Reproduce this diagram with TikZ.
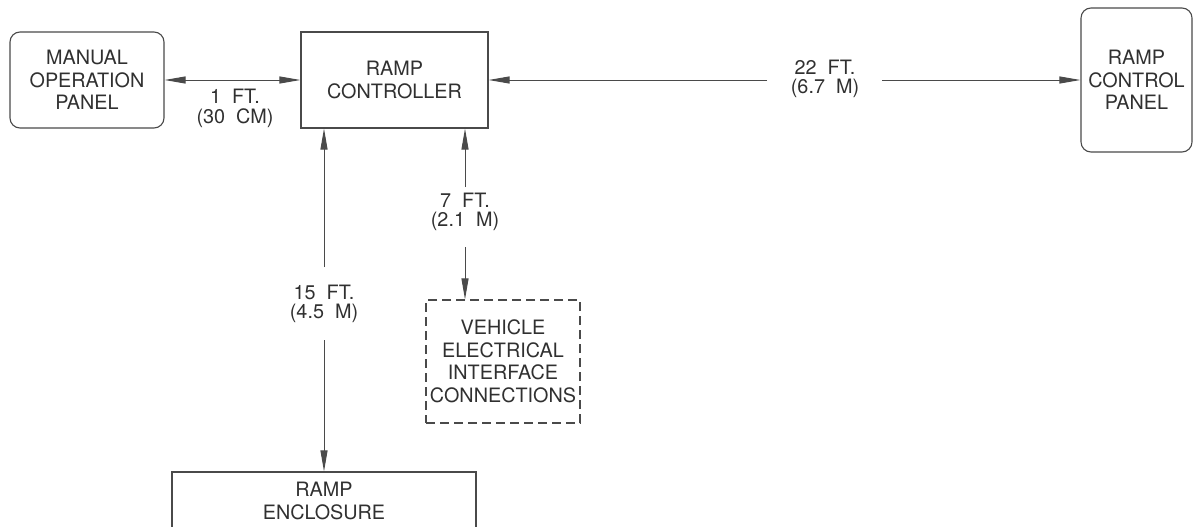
\documentclass[tikz,border=0pt]{standalone}
\usepackage{fontspec}
\setmainfont{TeX Gyre Heros}[WordSpace=2.0]
\usetikzlibrary{arrows.meta}
\definecolor{linecol}{HTML}{4A4A4A}
\definecolor{txtcol}{HTML}{303030}
\begin{document}
\begin{tikzpicture}[x=1pt,y=-1pt,
  box/.style={draw=linecol, line width=1.1pt, align=center, inner sep=0pt, text=txtcol,
    font=\fontsize{19.8}{22.5}\selectfont},
  rbox/.style={box, rounded corners=10pt},
  dbox/.style={box, dash pattern=on 9pt off 5pt},
  lbl/.style={align=center, inner sep=0pt, text=txtcol, font=\fontsize{19.8}{19.5}\selectfont},
  tip/.tip={Triangle[length=21pt,width=7pt]},
  conn/.style={draw=linecol, line width=1pt, -tip}]
\useasboundingbox (0,0) rectangle (1196,527);
\node[rbox, minimum width=154pt, minimum height=96pt] (mop) at (87,80) {MANUAL\\OPERATION\\PANEL};
\node[box, minimum width=187pt, minimum height=96pt] (rc) at (394.5,80) {RAMP\\CONTROLLER};
\node[rbox, minimum width=111pt, minimum height=144pt] (rcp) at (1136.5,80) {RAMP\\CONTROL\\PANEL};
\node[dbox, minimum width=154pt, minimum height=123pt] (veh) at (503,361.5) {VEHICLE\\ELECTRICAL\\INTERFACE\\CONNECTIONS};
\node[box, minimum width=304pt, minimum height=58pt] (enc) at (324,501) {RAMP\\ENCLOSURE};

\node[lbl] (l1) at (235,108.5) {1 FT.\\(30 CM)};
\node[lbl] (l22) at (825,79) {22 FT.\\(6.7 M)};
\node[lbl] (l15) at (324,304) {15 FT.\\(4.5 M)};
\node[lbl] (l7) at (465,212) {7 FT.\\(2.1 M)};

\coordinate (g22a) at (767,80);
\coordinate (g22b) at (882,80);
\coordinate (g15a) at (324,267);
\coordinate (g15b) at (324,340);
\coordinate (g7a) at (465,187);
\coordinate (g7b) at (465,247);

\draw[conn, tip-tip] (mop.east) -- (rc.west);
\draw[conn] (g22a) -- (rc.east);
\draw[conn] (g22b) -- (rcp.west);
\draw[conn] (g15a) -- (g15a |- rc.south);
\draw[conn] (g15b) -- (enc.north);
\draw[conn] (g7a) -- (g7a |- rc.south);
\draw[conn] (g7b) -- (g7b |- veh.north);
\end{tikzpicture}
\end{document}
